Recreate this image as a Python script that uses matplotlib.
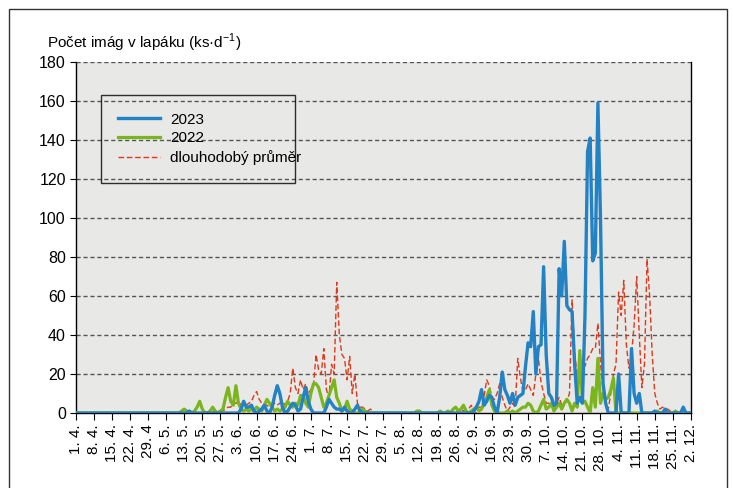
import matplotlib
matplotlib.use("Agg")
import matplotlib.pyplot as plt
from matplotlib import font_manager
from matplotlib.patches import Rectangle

# narrow font if present, otherwise Liberation Sans
names = {f.name for f in font_manager.fontManager.ttflist}
main_font = "Liberation Sans Narrow" if "Liberation Sans Narrow" in names else "Liberation Sans"
plt.rcParams["font.family"] = [main_font, "DejaVu Sans"]
plt.rcParams["mathtext.fontset"] = "custom"
plt.rcParams["mathtext.rm"] = main_font

# tick labels (weekly, 9.9. missing on the original)
date_labels = ["1. 4.", "8. 4.", "15. 4.", "22. 4.", "29. 4", "6. 5.", "13. 5.", "20. 5.",
               "27. 5.", "3. 6.", "10. 6.", "17. 6.", "24. 6.", "1. 7.", "8. 7.", "15. 7.",
               "22. 7.", "29. 7.", "5. 8.", "12. 8.", "19. 8.", "26. 8.", "2. 9.", "16. 9.",
               "23. 9.", "30. 9.", "7. 10.", "14. 10.", "21. 10.", "28. 10.", "4. 11.",
               "11. 11.", "18. 11.", "25. 11.", "2. 12."]

# 2023 (daily values)
y2023 = ([0] * 44 + [1] + [0] * 19 +
         [2, 6, 3, 3, 4, 1, 0, 1, 2, 4, 1, 0, 3, 9, 14, 10, 3, 0, 1, 3, 5, 4, 1, 2, 8, 13,
          6, 2, 0, 0, 0, 0, 0, 3, 7, 5, 3, 2, 2, 1, 3, 1, 0, 0, 2, 4, 1, 0, 0] +
         [0] * 41 +
         [1, 3, 6, 12, 4, 6, 9, 8, 3, 0, 8, 21, 12, 9, 5, 10, 4, 8, 9, 10, 24, 36, 34, 52,
          20, 34, 35, 75, 30, 10, 8, 4, 5, 74, 60, 88, 55, 53, 52, 25, 5, 8, 5, 50, 134,
          141, 78, 82, 159, 100, 15, 5, 0, 0, 0, 0, 20, 0, 0, 0, 0, 33, 10, 5, 10, 0, 0,
          0, 0, 0, 1, 0, 0, 0, 2, 0, 0, 0, 0, 0, 0, 3, 0, 0, 0])

# 2022
y2022 = ([0] * 41 +
         [1, 2, 1, 0, 0, 1, 3, 6, 2, 0, 0, 1, 3, 1, 0, 1, 2, 8, 13, 6, 4, 14, 5, 2, 1, 2,
          1, 2, 1, 3, 2, 1, 4, 7, 5, 3, 1, 2, 1, 2, 3, 6, 4, 3, 5, 4, 9, 9, 5, 3, 10, 15,
          15, 13, 8, 3, 5, 9, 13, 17, 8, 5, 1, 2, 6, 2, 1, 0, 0, 1, 2, 1] +
         [0] * 19 +
         [1, 1, 0, 0, 0, 0, 0, 0, 0, 1, 0, 0, 1, 0, 2, 3, 1, 2, 4, 1, 0, 1, 2, 3, 1, 2, 5,
          8, 12, 4, 1, 0, 0, 0, 0, 1, 0, 1, 0, 1, 2, 3, 3, 5, 4, 1, 0, 1, 4, 7, 2, 3, 5,
          1, 3, 5, 2, 5, 7, 5, 1, 5, 3, 32, 6, 6, 3, 0, 13, 3, 28, 5, 10, 7, 8, 12, 18, 0,
          0, 0, 0, 0, 0, 0, 0, 0, 0, 0, 0, 0, 0, 0, 0, 1, 0, 0, 0, 0, 0, 0, 1, 0, 0, 1, 0,
          0, 0])

# long-term average
avg = ([0] * 41 +
       [1, 0, 0, 1, 0, 0, 0, 0, 0, 1, 0, 1, 1, 0, 1, 1, 1, 2, 3, 3, 5, 5, 6, 4, 5, 4, 5,
        6, 9, 11, 7, 5, 4, 4, 3, 4, 5, 4, 5, 6, 4, 6, 10, 23, 13, 10, 17, 12, 15, 10, 12,
        14, 30, 22, 20, 33, 12, 8, 25, 20, 67, 40, 30, 28, 17, 29, 10, 20, 5, 3, 3, 2, 1,
        2, 1, 0] +
       [0] * 29 +
       [1, 0, 1, 2, 1, 2, 2, 4, 1, 0, 3, 3, 9, 17, 14, 8, 7, 10, 15, 8, 4, 1, 3, 5, 3, 28,
        18, 11, 12, 15, 12, 9, 20, 28, 16, 10, 5, 5, 4, 3, 5, 8, 4, 5, 6, 10, 58, 30, 20,
        23, 25, 24, 28, 30, 33, 33, 46, 25, 12, 5, 2, 10, 20, 25, 62, 50, 68, 35, 23, 30,
        45, 70, 40, 13, 25, 79, 60, 30, 10, 5, 2, 3, 2, 2, 1, 1, 0, 0, 0, 0, 0, 0, 0])

days = list(range(len(y2023)))

fig = plt.figure(figsize=(7.33, 4.88), dpi=100)
ax = fig.add_axes([0.1031, 0.1537, 0.8396, 0.7193])
ax.set_facecolor("#e8e8e6")

ax.plot(days, avg, color="#dd3a1c", lw=1.0, ls=(0, (4, 2)), label="dlouhodobý průměr", zorder=3)
ax.plot(days, y2022, color="#7ab51d", lw=2.3, label="2022", zorder=4)
ax.plot(days, y2023, color="#2282c4", lw=2.4, label="2023", zorder=5)

ax.set_xlim(0, 238)
ax.set_ylim(0, 180)
ax.set_yticks(range(0, 181, 20))
ax.set_xticks([7 * k for k in range(len(date_labels))])
ax.set_xticklabels(date_labels, rotation=90, fontsize=11)
ax.tick_params(axis="y", labelsize=11.5, length=4, direction="out", pad=3)
ax.tick_params(axis="x", length=5, direction="out", pad=3)

for v in range(20, 181, 20):
    ax.axhline(v, color="#555555", lw=1, ls=(0, (3, 2)), zorder=1)

ax.spines["top"].set_visible(False)
for s in ["left", "right", "bottom"]:
    ax.spines[s].set_linewidth(1)

handles, labels = ax.get_legend_handles_labels()
order = [2, 1, 0]
leg = ax.legend([handles[i] for i in order], [labels[i] for i in order],
                loc="upper left", bbox_to_anchor=(0.041, 0.906, 0.3155, 0.0), mode="expand",
                fontsize=11, handlelength=2.75, handletextpad=0.65, labelspacing=0.32,
                borderpad=1.15, borderaxespad=0, fancybox=False, frameon=True)
leg.get_frame().set_edgecolor("black")
leg.get_frame().set_facecolor("none")
leg.get_frame().set_linewidth(1)

fig.text(47 / 733, 1 - 43 / 488, "Počet imág v lapáku (ks·d$^{-1}$)", fontsize=11, va="center")

fig.patches.append(Rectangle((9 / 733, -0.1), 718 / 733, 1.1 - 9 / 488, transform=fig.transFigure,
                             fill=False, edgecolor="#333333", lw=1))

fig.savefig("out.png", dpi=100)
